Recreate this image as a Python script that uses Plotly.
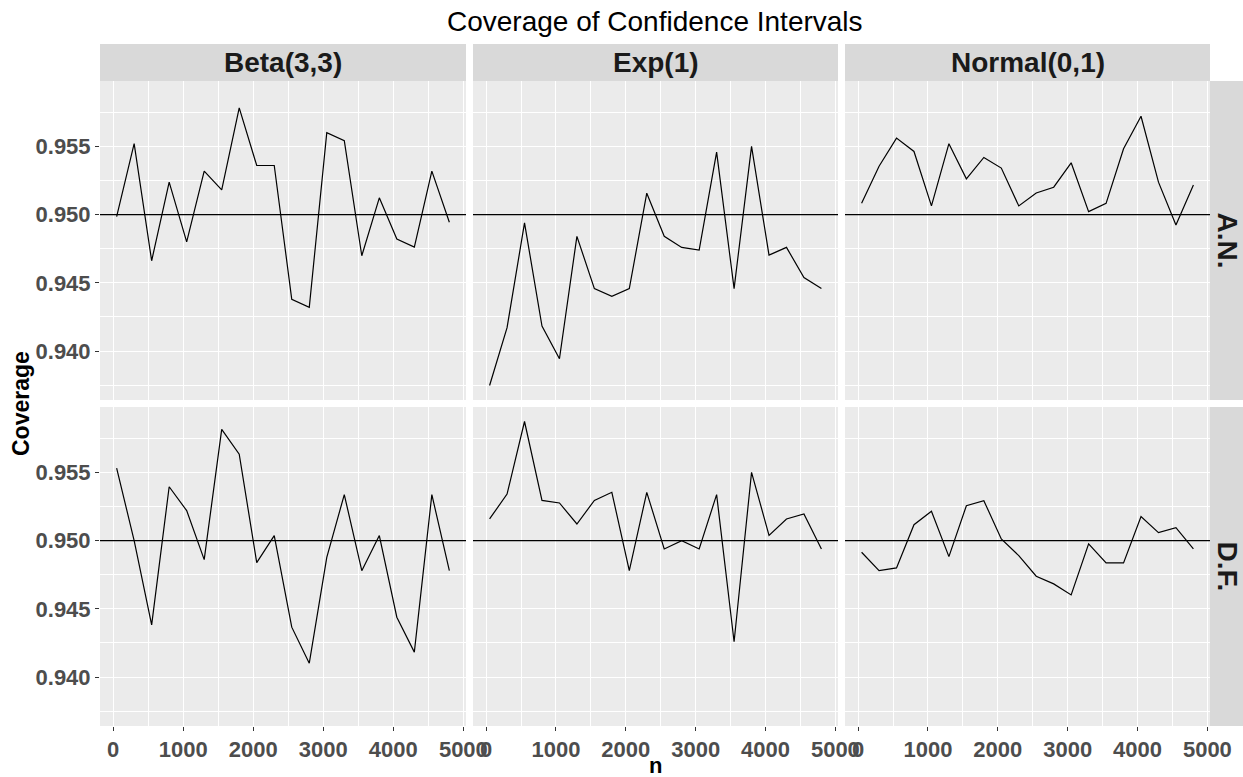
import plotly.graph_objects as go

n_values = [50, 300, 550, 800, 1050, 1300, 1550, 1800, 2050, 2300,
            2550, 2800, 3050, 3300, 3550, 3800, 4050, 4300, 4550, 4800]

distributions = ["Beta(3,3)", "Exp(1)", "Normal(0,1)"]
methods = ["A.N.", "D.F."]

beta_an = [0.94985, 0.9552, 0.94662, 0.95238, 0.94801, 0.95319, 0.95181, 0.95782, 0.9536, 0.9536,
           0.9438, 0.94321, 0.956, 0.95542, 0.94699, 0.95123, 0.94821, 0.94762, 0.95319, 0.94944]
exp_an = [0.93748, 0.94172, 0.94939, 0.94184, 0.93944, 0.94841, 0.94458, 0.94402, 0.94458, 0.95157,
          0.94841, 0.9476, 0.9474, 0.95458, 0.94458, 0.955, 0.94703, 0.9476, 0.94539, 0.94458]
normal_an = [0.95083, 0.95355, 0.95561, 0.95463, 0.95064, 0.9552, 0.95262, 0.95419, 0.95341, 0.95064,
             0.95159, 0.95201, 0.9538, 0.95022, 0.95083, 0.95483, 0.95721, 0.95238, 0.94924, 0.95218]
beta_df = [0.95532, 0.95, 0.94383, 0.95395, 0.9522, 0.94861, 0.95815, 0.95634, 0.94839, 0.95037,
           0.94366, 0.94102, 0.94878, 0.95337, 0.9478, 0.95037, 0.94439, 0.94183, 0.95337, 0.9478]
exp_df = [0.95159, 0.95341, 0.95873, 0.95295, 0.95276, 0.95122, 0.95295, 0.95354, 0.9478, 0.95354,
          0.94939, 0.95, 0.94939, 0.95337, 0.94259, 0.955, 0.95039, 0.95159, 0.95195, 0.94939]
normal_df = [0.94915, 0.9478, 0.948, 0.95117, 0.95215, 0.94883, 0.95256, 0.95293, 0.95012, 0.9489,
             0.94739, 0.94683, 0.94602, 0.94976, 0.94837, 0.94837, 0.95176, 0.95059, 0.95095, 0.94939]

nominal = 0.95
x_ticks = [0, 1000, 2000, 3000, 4000, 5000]
y_ticks = [0.940, 0.945, 0.950, 0.955]

series = {
    ("A.N.", "Beta(3,3)"): beta_an,
    ("A.N.", "Exp(1)"): exp_an,
    ("A.N.", "Normal(0,1)"): normal_an,
    ("D.F.", "Beta(3,3)"): beta_df,
    ("D.F.", "Exp(1)"): exp_df,
    ("D.F.", "Normal(0,1)"): normal_df,
}

W, H = 1243, 777
col_px = [(100, 466), (473, 838), (845, 1210)]
row_px = [(81, 400), (407, 726)]

all_vals = [v for s in series.values() for v in s]
ymin, ymax = min(all_vals), max(all_vals)
ypad = (ymax - ymin) * 0.05
yrange = [ymin - ypad, ymax + ypad]
xpad = (max(n_values) - min(n_values)) * 0.05
xrange = [min(n_values) - xpad, max(n_values) + xpad]

tickfont = dict(family="Liberation Sans", size=22, color="#4D4D4D", weight="bold")
grid = "#FFFFFF"

fig = go.Figure()
layout = dict(
    width=W, height=H,
    margin=dict(l=0, r=0, t=0, b=0),
    paper_bgcolor="white",
    plot_bgcolor="#EBEBEB",
    showlegend=False,
    shapes=[], annotations=[],
)

idx = 0
for r, m in enumerate(methods):
    for c, d in enumerate(distributions):
        idx += 1
        sx = "" if idx == 1 else str(idx)
        fig.add_trace(go.Scatter(
            x=n_values, y=series[(m, d)], mode="lines",
            line=dict(color="black", width=1.2),
            xaxis="x" + sx, yaxis="y" + sx, hoverinfo="x+y",
        ))
        x0, x1 = col_px[c]
        y0, y1 = row_px[r]
        bottom = (r == 1)
        left = (c == 0)
        layout["xaxis" + sx] = dict(
            domain=[x0 / W, x1 / W], anchor="y" + sx, range=xrange,
            tickvals=x_ticks, showticklabels=bottom,
            ticks="outside" if bottom else "", ticklen=4, tickwidth=1, tickcolor="#333333",
            tickfont=tickfont, showgrid=True, gridcolor=grid, gridwidth=1.4,
            minor=dict(dtick=500, tick0=0, showgrid=True, gridcolor=grid, gridwidth=0.7, ticks=""),
            zeroline=False, showline=False, automargin=False,
        )
        layout["yaxis" + sx] = dict(
            domain=[1 - y1 / H, 1 - y0 / H], anchor="x" + sx, range=yrange,
            tickvals=y_ticks, tickformat=".3f", showticklabels=left,
            ticks="outside" if left else "", ticklen=4, tickwidth=1, tickcolor="#333333",
            tickfont=tickfont, showgrid=True, gridcolor=grid, gridwidth=1.4,
            minor=dict(dtick=0.0025, tick0=0.94, showgrid=True, gridcolor=grid, gridwidth=0.7, ticks=""),
            zeroline=False, showline=False, automargin=False,
        )
        layout["shapes"].append(dict(
            type="line", xref="x" + sx + " domain", yref="y" + sx,
            x0=0, x1=1, y0=nominal, y1=nominal,
            line=dict(color="black", width=1.2), layer="above",
        ))

# column strips
for c, d in enumerate(distributions):
    x0, x1 = col_px[c]
    layout["shapes"].append(dict(
        type="rect", xref="paper", yref="paper",
        x0=x0 / W, x1=x1 / W, y0=1 - 81 / H, y1=1 - 44 / H,
        fillcolor="#D9D9D9", line=dict(width=0), layer="below",
    ))
    layout["annotations"].append(dict(
        text=d, xref="paper", yref="paper", x=(x0 + x1) / 2 / W, y=1 - 62.5 / H,
        xanchor="center", yanchor="middle", showarrow=False,
        font=dict(family="Liberation Sans", size=28, color="#1A1A1A", weight="bold"),
    ))

# row strips
for r, m in enumerate(methods):
    y0, y1 = row_px[r]
    layout["shapes"].append(dict(
        type="rect", xref="paper", yref="paper",
        x0=1210 / W, x1=1.0, y0=1 - y1 / H, y1=1 - y0 / H,
        fillcolor="#D9D9D9", line=dict(width=0), layer="below",
    ))
    layout["annotations"].append(dict(
        text=m, xref="paper", yref="paper", x=1227 / W, y=1 - (y0 + y1) / 2 / H,
        xanchor="center", yanchor="middle", showarrow=False, textangle=90,
        font=dict(family="Liberation Sans", size=28, color="#1A1A1A", weight="bold"),
    ))

# title and axis titles
layout["annotations"].append(dict(
    text="Coverage of Confidence Intervals", xref="paper", yref="paper",
    x=655 / W, y=1 - 22 / H, xanchor="center", yanchor="middle", showarrow=False,
    font=dict(family="Liberation Sans", size=28, color="black"),
))
layout["annotations"].append(dict(
    text="n", xref="paper", yref="paper",
    x=655 / W, y=1 - 765 / H, xanchor="center", yanchor="middle", showarrow=False,
    font=dict(family="Liberation Sans", size=22, color="black", weight="bold"),
))
layout["annotations"].append(dict(
    text="Coverage", xref="paper", yref="paper",
    x=21 / W, y=1 - 404 / H, xanchor="center", yanchor="middle", showarrow=False,
    textangle=-90,
    font=dict(family="Liberation Sans", size=23, color="black", weight="bold"),
))

fig.update_layout(**layout)
fig.write_html(
    "out.html",
    config={"displayModeBar": False},
    post_script="document.body.style.margin='0';document.body.style.overflow='hidden';",
)
